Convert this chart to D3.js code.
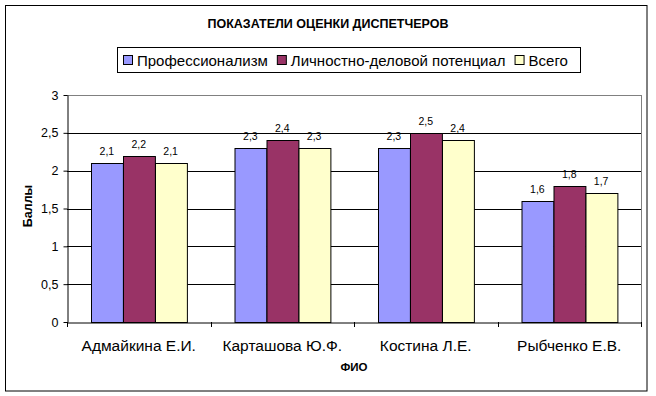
<!DOCTYPE html>
<html>
<head>
<meta charset="utf-8">
<script src="https://cdn.jsdelivr.net/npm/d3@7"></script>
<style>
  body { margin: 0; background: #fff; }
  svg { display: block; font-family: Arial, "Liberation Sans", sans-serif; }
</style>
</head>
<body>
<div id="chart"></div>
<script>
// Data
const names = ['Адмайкина Е.И.', 'Карташова Ю.Ф.', 'Костина Л.Е.', 'Рыбченко Е.В.'];
const seriesNames = ['Профессионализм', 'Личностно-деловой потенциал', 'Всего'];
const professionalism = [2.1, 2.3, 2.3, 1.6];
const potential = [2.2, 2.4, 2.5, 1.8];
const total = [2.1, 2.3, 2.4, 1.7];
const seriesColors = ['#9999FF', '#993366', '#FFFFCC'];
const yTicks = [0, 0.5, 1, 1.5, 2, 2.5, 3];

const series = [professionalism, potential, total];

const width = 656, height = 396;
const plot = { left: 67, right: 641, top: 95, bottom: 322 };

const svg = d3.select('#chart').append('svg')
  .attr('width', width).attr('height', height);

// Outer chart border
svg.append('rect')
  .attr('x', 5.5).attr('y', 5.5)
  .attr('width', 641.5).attr('height', 385.5)
  .attr('fill', '#fff').attr('stroke', '#000').attr('stroke-width', 1);

const x0 = d3.scaleBand().domain(names).range([plot.left, plot.right]).padding(0);
const barW = x0.bandwidth() / 4.5; // gap width 150%
const x1 = d3.scaleBand().domain(d3.range(series.length))
  .range([0.75 * barW, 3.75 * barW]).padding(0);
const y = d3.scaleLinear().domain([0, 3]).range([plot.bottom, plot.top]);

const fmt = v => String(v).replace('.', ',');

// Gridlines
svg.append('g').selectAll('line')
  .data(yTicks.filter(t => t > 0))
  .join('line')
  .attr('x1', plot.left).attr('x2', plot.right)
  .attr('y1', d => Math.round(y(d)) + 0.5).attr('y2', d => Math.round(y(d)) + 0.5)
  .attr('stroke', d => d === 3 ? '#808080' : '#000');

// Right border of plot area
svg.append('line')
  .attr('x1', plot.right + 0.5).attr('x2', plot.right + 0.5)
  .attr('y1', plot.top).attr('y2', plot.bottom)
  .attr('stroke', '#808080');

// Bars
const groups = svg.append('g').selectAll('g')
  .data(names)
  .join('g')
  .attr('transform', d => `translate(${x0(d)},0)`);

groups.selectAll('rect')
  .data((d, i) => series.map((s, k) => ({ k, v: s[i] })))
  .join('rect')
  .attr('x', d => Math.round(x1(d.k)) + 0.5)
  .attr('y', d => Math.round(y(d.v)) + 0.5)
  .attr('width', x1.bandwidth())
  .attr('height', d => Math.round(y(0)) - Math.round(y(d.v)))
  .attr('fill', d => seriesColors[d.k])
  .attr('stroke', '#000').attr('stroke-width', 1);

groups.selectAll('text')
  .data((d, i) => series.map((s, k) => ({ k, v: s[i] })))
  .join('text')
  .attr('x', d => x1(d.k) + x1.bandwidth() / 2)
  .attr('y', d => y(d.v) - 8)
  .attr('text-anchor', 'middle')
  .attr('font-size', '10.5px')
  .attr('fill', '#000')
  .text(d => fmt(d.v));

// Y axis
const yAxis = svg.append('g')
  .attr('transform', `translate(${plot.left + 0.5},0)`)
  .call(d3.axisLeft(y).tickValues(yTicks).tickSize(4).tickSizeOuter(0).tickFormat(fmt));
yAxis.select('.domain').attr('stroke', '#000');
yAxis.selectAll('text').attr('font-size', '12.5px').attr('font-family', 'Arial, "Liberation Sans", sans-serif').attr('dx', '-2');

// X axis
const xAxis = svg.append('g')
  .attr('transform', `translate(0,${Math.round(plot.bottom) + 0.5})`)
  .call(d3.axisBottom(x0).tickSize(0).tickSizeOuter(0));
xAxis.select('.domain').attr('stroke', '#000');
xAxis.selectAll('text')
  .attr('font-size', '15.5px')
  .attr('font-family', 'Arial, "Liberation Sans", sans-serif')
  .attr('dy', 0).attr('y', 28);

// category separator ticks
svg.append('g').selectAll('line')
  .data(names.concat(['end']))
  .join('line')
  .attr('x1', (d, i) => Math.round(plot.left + i * x0.bandwidth()) + 0.5)
  .attr('x2', (d, i) => Math.round(plot.left + i * x0.bandwidth()) + 0.5)
  .attr('y1', plot.bottom).attr('y2', plot.bottom + 5)
  .attr('stroke', '#000');

// Title
svg.append('text')
  .attr('x', 328).attr('y', 28)
  .attr('text-anchor', 'middle')
  .attr('font-size', '12.5px').attr('font-weight', 'bold')
  .text('ПОКАЗАТЕЛИ ОЦЕНКИ ДИСПЕТЧЕРОВ');

// Axis titles
svg.append('text')
  .attr('transform', 'translate(32,206) rotate(-90)')
  .attr('text-anchor', 'middle')
  .attr('font-size', '12.5px').attr('font-weight', 'bold')
  .text('Баллы');

svg.append('text')
  .attr('x', 354).attr('y', 371)
  .attr('text-anchor', 'middle')
  .attr('font-size', '11.5px').attr('font-weight', 'bold')
  .text('ФИО');

// Legend
const legend = svg.append('g');
legend.append('rect')
  .attr('x', 117.5).attr('y', 47.5)
  .attr('width', 463).attr('height', 25)
  .attr('fill', '#fff').attr('stroke', '#000');

const legendItems = legend.selectAll('g')
  .data(seriesNames)
  .join('g');
let lx = 123;
legendItems.each(function (d, i) {
  const g = d3.select(this);
  g.append('rect')
    .attr('x', lx + 0.5).attr('y', 55.5)
    .attr('width', 9).attr('height', 9)
    .attr('fill', seriesColors[i]).attr('stroke', '#000');
  const t = g.append('text')
    .attr('x', lx + 14).attr('y', 66)
    .attr('font-size', '15px')
    .text(d);
  lx += 14 + t.node().getComputedTextLength() + 9;
});
</script>
</body>
</html>
